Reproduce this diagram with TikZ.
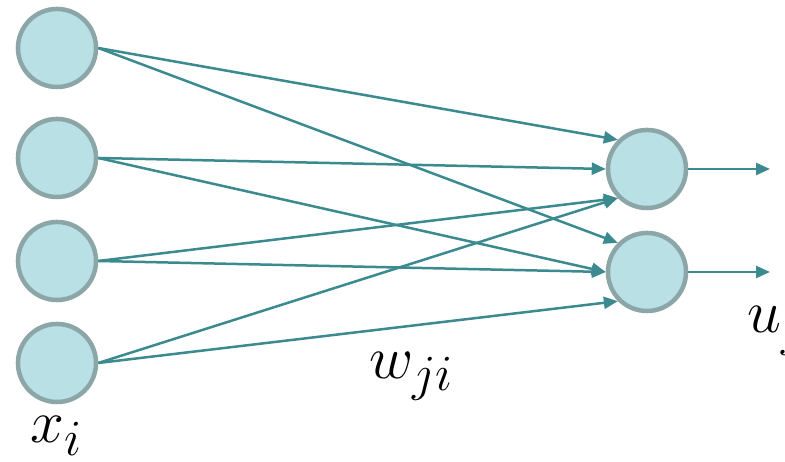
\documentclass[tikz,border=0pt]{standalone}
\usetikzlibrary{arrows.meta}
\definecolor{neuronfill}{HTML}{B9E0E4}
\definecolor{neuronedge}{HTML}{8CA6A8}
\definecolor{wire}{HTML}{3A8A8F}
\begin{document}
\begin{tikzpicture}[x=0.01cm,y=-0.01cm,
  neuron/.style={circle,draw=neuronedge,fill=neuronfill,line width=0.045cm,minimum size=0.78cm,inner sep=0pt},
  link/.style={draw=wire,line width=0.025cm,-{Triangle[length=0.14cm,width=0.12cm]}},
  lbl/.style={font=\fontsize{19}{22}\selectfont}]
\useasboundingbox (0,0) rectangle (785,462);
% input layer
\node[neuron] (i1) at (57,48) {};
\node[neuron] (i2) at (57,158) {};
\node[neuron] (i3) at (57,261) {};
\node[neuron] (i4) at (57,363) {};
% output layer
\node[neuron] (o1) at (647,169) {};
\node[neuron] (o2) at (647,272) {};
\coordinate (e1) at (770,169);
\coordinate (e2) at (770,272);
% weighted connections
\draw[link] (i1.east) -- (o1.north west);
\draw[link] (i1.east) -- (o2.north west);
\draw[link] (i2.east) -- (o1.west);
\draw[link] (i2.east) -- (o2.west);
\draw[link] (i3.east) -- (o1.south west);
\draw[link] (i3.east) -- (o2.west);
\draw[link] (i4.east) -- (o1.south west);
\draw[link] (i4.east) -- (o2.south west);
% outputs
\draw[link] (o1.east) -- (e1);
\draw[link] (o2.east) -- (e2);
% labels
\node[lbl] (xl) at (57,436) {$x_i$};
\node[lbl] (wl) at (412,376) {$w_{ji}$};
\node[lbl,anchor=base west] (ul) at (735,333) {$u_j$};
\end{tikzpicture}
\end{document}
